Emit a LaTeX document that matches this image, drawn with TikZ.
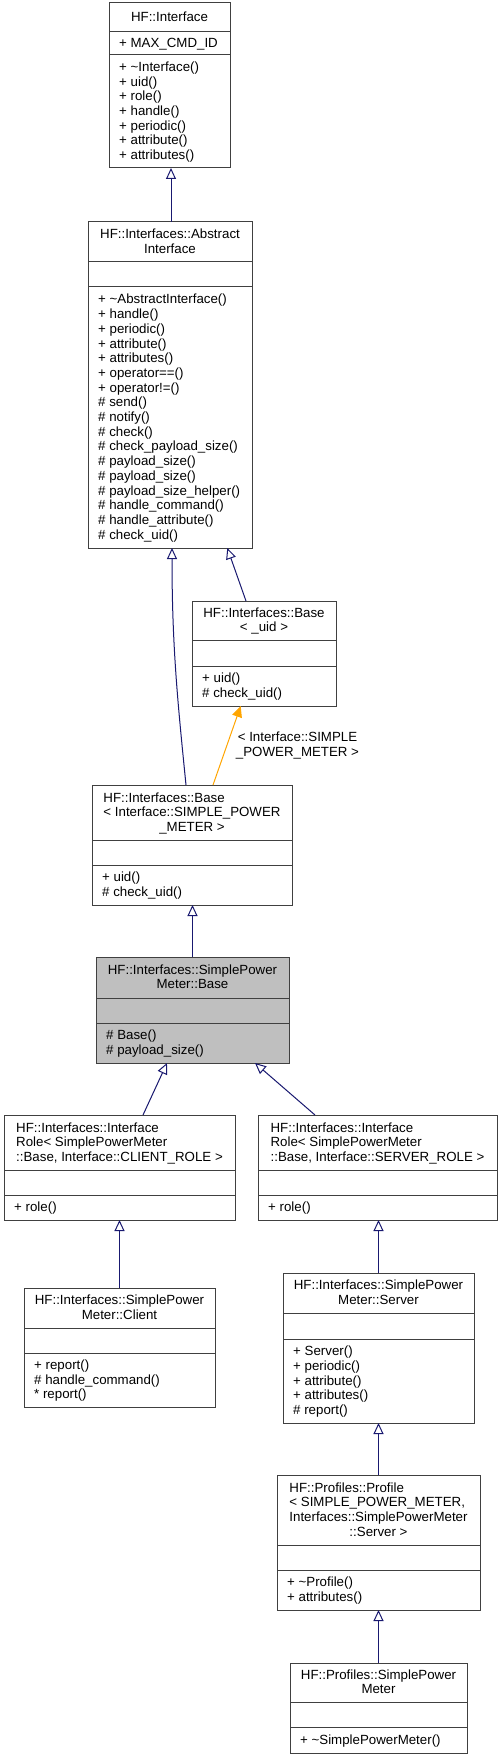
\documentclass[tikz,border=0pt]{standalone}
\usepackage{fontspec}
\setmainfont{Liberation Sans}
\usetikzlibrary{arrows.meta}
\definecolor{navy}{HTML}{191970}
\definecolor{orng}{HTML}{FFA500}
\definecolor{bord}{HTML}{404040}
\definecolor{selgray}{HTML}{BFBFBF}
\newcommand\SL{\rule[-3.35pt]{0pt}{14.7pt}}
\newcommand\cfont{\fontsize{13.3pt}{14.7pt}\selectfont}
% fill, name, x1, y1, x2, y2, sep1, sep2
\newcommand\umlbox[8][white]{%
  \node[clsbox, fill=#1, minimum width={(#5-#3)*1pt}, minimum height={(#6-#4)*1pt}, anchor=north west] (#2) at (#3,#4) {};
  \draw[sepl] (#2.west |- 0,#7) -- (#2.east |- 0,#7);
  \draw[sepl] (#2.west |- 0,#8) -- (#2.east |- 0,#8);
}
\begin{document}
\begin{tikzpicture}[x=1pt, y=-1pt,
  clsbox/.style={draw=bord, line width=1pt, inner sep=0pt, outer sep=0pt, rectangle},
  sepl/.style={draw=bord, line width=1pt},
  ltxt/.style={font=\cfont, inner sep=0pt, align=left, anchor=west},
  ctxt/.style={font=\cfont, inner sep=0pt, align=center},
  inh/.style={draw=navy, line width=1pt, -{Triangle[open, length=11pt, width=10pt]}},
  tmpl/.style={draw=orng, line width=1pt, -{Triangle[length=11pt, width=10pt]}},
  lbl/.style={font=\cfont, inner sep=0pt, align=center}
]
\fill[white] (0,0) rectangle (503,1760);
\useasboundingbox (0,0) rectangle (503,1760);

% HF::Interface
\umlbox{iface}{109}{3}{230}{168}{32}{55}
\node[ctxt] (iface-t) at (169.5,17.5) {\SL HF::Interface};
\node[ltxt] (iface-a) at (119,43.5) {\SL + MAX\_CMD\_ID};
\node[ltxt] (iface-m) at (119,111.5) {\SL + \textasciitilde Interface()\\ \SL + uid()\\ \SL + role()\\ \SL + handle()\\ \SL + periodic()\\ \SL + attribute()\\ \SL + attributes()};

% AbstractInterface
\umlbox{abs}{88}{222}{252}{548}{262}{287}
\node[ctxt] (abs-t) at (170,242) {\SL HF::Interfaces::Abstract\\ \SL Interface};
\node[ltxt] (abs-m) at (98,417.5) {\SL + \textasciitilde AbstractInterface()\\ \SL + handle()\\ \SL + periodic()\\ \SL + attribute()\\ \SL + attributes()\\ \SL + operator==()\\ \SL + operator!=()\\ \SL \# send()\\ \SL \# notify()\\ \SL \# check()\\ \SL \# check\_payload\_size()\\ \SL \# payload\_size()\\ \SL \# payload\_size()\\ \SL \# payload\_size\_helper()\\ \SL \# handle\_command()\\ \SL \# handle\_attribute()\\ \SL \# check\_uid()};

% Base< _uid >
\umlbox{buid}{192}{601}{336}{706}{640}{666}
\node[ctxt] (buid-t) at (264,620.5) {\SL HF::Interfaces::Base\\ \SL < \_uid >};
\node[ltxt] (buid-m) at (202,686) {\SL + uid()\\ \SL \# check\_uid()};

% Base< Interface::SIMPLE_POWER_METER >
\umlbox{bspm}{92}{785}{292}{905}{840}{865}
\node[ctxt, align=left, anchor=north] (bspm-t1) at (192,790.45) {\SL HF::Interfaces::Base\\ \SL < Interface::SIMPLE\_POWER};
\node[ctxt, anchor=north] (bspm-t2) at (192,819.85) {\SL \_METER >};
\node[ltxt] (bspm-m) at (102,885) {\SL + uid()\\ \SL \# check\_uid()};

% SimplePowerMeter::Base
\umlbox[selgray]{spmb}{96}{957}{289}{1063}{998}{1023}
\node[ctxt] (spmb-t) at (192.5,977.5) {\SL HF::Interfaces::SimplePower\\ \SL Meter::Base};
\node[ltxt] (spmb-m) at (106,1043) {\SL \# Base()\\ \SL \# payload\_size()};

% InterfaceRole CLIENT
\umlbox{crole}{4}{1115}{235}{1220}{1170}{1195}
\node[ctxt, anchor=north] (crole-t2) at (119.5,1149.85) {\SL ::Base, Interface::CLIENT\_ROLE >};
\node[ctxt, align=left, anchor=north west] (crole-t1) at (crole-t2.west |- 0,1120.45) {\SL HF::Interfaces::Interface\\ \SL Role< SimplePowerMeter};
\node[ltxt] (crole-m) at (14,1207.5) {\SL + role()};

% InterfaceRole SERVER
\umlbox{srole}{258}{1115}{497}{1220}{1170}{1195}
\node[ctxt, anchor=north] (srole-t2) at (377.5,1149.85) {\SL ::Base, Interface::SERVER\_ROLE >};
\node[ctxt, align=left, anchor=north west] (srole-t1) at (srole-t2.west |- 0,1120.45) {\SL HF::Interfaces::Interface\\ \SL Role< SimplePowerMeter};
\node[ltxt] (srole-m) at (268,1207.5) {\SL + role()};

% Client
\umlbox{cli}{24}{1288}{215}{1407}{1328}{1353}
\node[ctxt] (cli-t) at (119.5,1308) {\SL HF::Interfaces::SimplePower\\ \SL Meter::Client};
\node[ltxt] (cli-m) at (34,1380) {\SL + report()\\ \SL \# handle\_command()\\ \SL * report()};

% Server
\umlbox{srv}{283}{1273}{474}{1423}{1313}{1339}
\node[ctxt] (srv-t) at (378.5,1293) {\SL HF::Interfaces::SimplePower\\ \SL Meter::Server};
\node[ltxt] (srv-m) at (293,1381) {\SL + Server()\\ \SL + periodic()\\ \SL + attribute()\\ \SL + attributes()\\ \SL \# report()};

% Profile
\umlbox{prof}{277}{1475}{480}{1610}{1545}{1570}
\node[ctxt, anchor=north] (prof-t2) at (378.5,1510) {\SL Interfaces::SimplePowerMeter\\ \SL ::Server >};
\node[ctxt, align=left, anchor=north west] (prof-t1) at (prof-t2.west |- 0,1480.6) {\SL HF::Profiles::Profile\\ \SL < SIMPLE\_POWER\_METER,};
\node[ltxt] (prof-m) at (287,1590) {\SL + \textasciitilde Profile()\\ \SL + attributes()};

% Profiles::SimplePowerMeter
\umlbox{spmp}{290}{1663}{467}{1753}{1702}{1727}
\node[ctxt] (spmp-t) at (378.5,1682.5) {\SL HF::Profiles::SimplePower\\ \SL Meter};
\node[ltxt] (spmp-m) at (300,1740) {\SL + \textasciitilde SimplePowerMeter()};

% connectors
\draw[inh] ([xshift=1pt]abs.north) -- ([xshift=1pt]abs.north |- iface.south);
\draw[inh] ([xshift=-18pt]buid.north) -- ([xshift=57.3pt]abs.south);
\draw[inh] ([xshift=-6pt]bspm.north) .. controls ([xshift=-14pt, yshift=80pt]bspm.north) and ([xshift=2pt, yshift=-100pt]abs.south) .. ([xshift=2pt]abs.south);
\draw[tmpl] ([xshift=21pt]bspm.north) -- ([xshift=-23.3pt]buid.south);
\node[lbl] (tlabel) at (297.5,745.2) {\SL < Interface::SIMPLE\\ \SL \_POWER\_METER >};
\draw[inh] (spmb.north) -- (spmb.north |- bspm.south);
\draw[inh] ([xshift=23.5pt]crole.north) -- ([xshift=-25.5pt]spmb.south);
\draw[inh] ([xshift=-62.5pt]srole.north) -- ([xshift=62.5pt]spmb.south);
\draw[inh] (cli.north) -- (cli.north |- crole.south);
\draw[inh] (srv.north) -- (srv.north |- srole.south);
\draw[inh] (prof.north) -- (prof.north |- srv.south);
\draw[inh] (spmp.north) -- (spmp.north |- prof.south);
\end{tikzpicture}
\end{document}
